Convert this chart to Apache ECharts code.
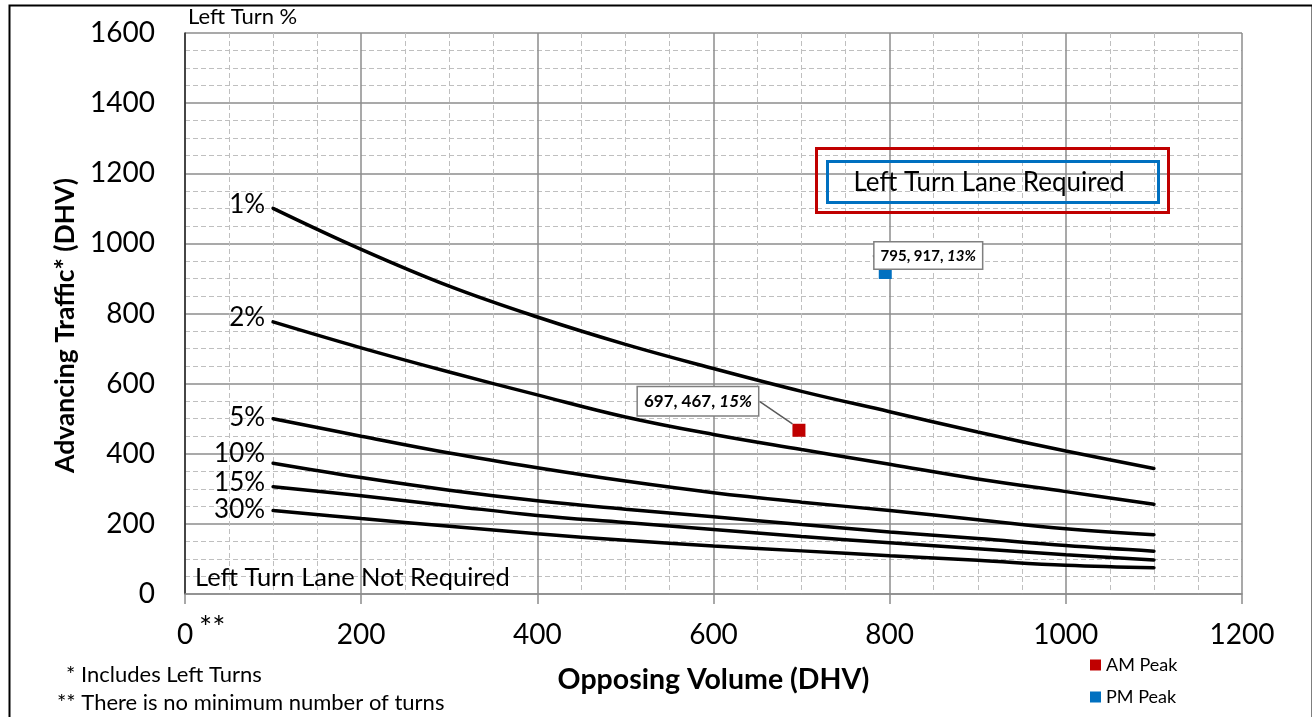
<!DOCTYPE html>
<html>
<head>
<meta charset="utf-8">
<script src="https://cdn.jsdelivr.net/npm/echarts@6/dist/echarts.min.js"></script>
<style>
html,body{margin:0;padding:0;background:#fff;}
#chart{width:1312px;height:717px;}
</style>
</head>
<body>
<div id="chart"></div>
<script>
// ---- data ----
const opposingVolume = [100, 200, 300, 400, 500, 600, 700, 800, 900, 1000, 1100];
const curveNames = ['1%', '2%', '5%', '10%', '15%', '30%'];
const pct1  = [1100, 983, 878, 790, 712, 643, 578, 520, 462, 408, 358];
const pct2  = [776, 702, 633, 568, 505, 455, 412, 370, 328, 292, 256];
const pct5  = [500, 450, 402, 360, 322, 289, 262, 238, 212, 186, 169];
const pct10 = [373, 332, 296, 266, 242, 220, 198, 177, 158, 138, 122];
const pct15 = [306, 280, 252, 224, 204, 184, 164, 146, 129, 112, 97];
const pct30 = [238, 215, 193, 172, 153, 137, 123, 109, 96, 82, 75];
const curveValues = [pct1, pct2, pct5, pct10, pct15, pct30];
const labelShiftY = [-4, -4, -1, -10, -4, -1];

const amPeak = [697, 467]; const amPct = '15%';
const pmPeak = [795, 917]; const pmPct = '13%';

const xTicks = [0, 200, 400, 600, 800, 1000, 1200];
const yTicks = [0, 200, 400, 600, 800, 1000, 1200, 1400, 1600];

const FONT = 'Lato, "Open Sans", sans-serif';

const chart = echarts.init(document.getElementById('chart'), null, {renderer: 'canvas'});

const curveSeries = curveNames.map((name, k) => ({
  name: name,
  type: 'line',
  smooth: 0.4,
  symbol: 'circle',
  symbolSize: 0.01,
  showSymbol: true,
  showAllSymbol: true,
  z: 3,
  itemStyle: {color: 'rgba(0,0,0,0)'},
  lineStyle: {color: '#000', width: 3.5, cap: 'round'},
  label: {show: false},
  data: opposingVolume.map((x, i) => {
    const item = {value: [x, curveValues[k][i]]};
    if (i === 0) {
      item.label = {show: true, position: 'left', distance: 8, formatter: name,
        offset: [0, labelShiftY[k]], fontFamily: FONT, fontSize: 26, color: '#000'};
    }
    return item;
  })
}));

function pointSeries(name, pt, pct, color, dx, dy, fs) {
  return {
    name: name,
    type: 'scatter',
    symbol: 'rect',
    symbolSize: 13,
    z: 5,
    itemStyle: {color: color, opacity: 1},
    data: [{value: pt}],
    label: {
      show: true,
      position: 'inside',
      formatter: () => '{b|' + pt[0] + ', ' + pt[1] + ', }{i|' + pct + '}',
      backgroundColor: '#fff',
      borderColor: '#7f7f7f',
      borderWidth: 1.5,
      padding: [6, 6, 5, 6],
      rich: {
        b: {fontFamily: FONT, fontWeight: 'bold', fontSize: fs, color: '#000'},
        i: {fontFamily: FONT, fontWeight: 'bold', fontStyle: 'italic', fontSize: fs, color: '#000'}
      }
    },
    labelLayout: {dx: dx, dy: dy},
    labelLine: {show: true, lineStyle: {color: '#595959', width: 1.5}}
  };
}

const option = {
  animation: false,
  backgroundColor: '#fff',
  grid: {left: 185, right: 70, top: 33, bottom: 123},
  legend: {
    orient: 'vertical',
    left: 1085, top: 651,
    itemWidth: 11, itemHeight: 11, itemGap: 14,
    icon: 'rect',
    data: ['AM Peak', 'PM Peak'],
    textStyle: {fontFamily: FONT, fontSize: 18, color: '#000'}
  },
  xAxis: {
    type: 'value', min: xTicks[0], max: xTicks[xTicks.length - 1], interval: 200,
    name: 'Opposing Volume (DHV)', nameLocation: 'middle', nameGap: 71,
    nameTextStyle: {fontFamily: FONT, fontWeight: 'bold', fontSize: 28.5, color: '#000'},
    axisLine: {show: true, lineStyle: {color: '#8c8c8c', width: 1.5}},
    axisTick: {show: true, length: 10, lineStyle: {color: '#8c8c8c', width: 1.5}},
    axisLabel: {fontFamily: FONT, fontSize: 28, color: '#000', margin: 27, formatter: v => String(v)},
    splitLine: {show: true, lineStyle: {color: '#8c8c8c', width: 1.5}},
    minorTick: {show: false, splitNumber: 4},
    minorSplitLine: {show: true, lineStyle: {color: '#bfbfbf', width: 1, type: [5, 3]}}
  },
  yAxis: {
    type: 'value', min: yTicks[0], max: yTicks[yTicks.length - 1], interval: 200,
    name: 'Advancing Traffic* (DHV)', nameLocation: 'middle', nameGap: 104,
    nameTextStyle: {fontFamily: FONT, fontWeight: 'bold', fontSize: 26.5, color: '#000',
                    padding: [0, 24, 0, 0]},
    axisLine: {show: true, lineStyle: {color: '#262626', width: 1.5}},
    axisTick: {show: false},
    axisLabel: {fontFamily: FONT, fontSize: 28, color: '#000', margin: 30, formatter: v => String(v)},
    splitLine: {show: true, lineStyle: {color: '#8c8c8c', width: 1.5}},
    minorTick: {show: false, splitNumber: 4},
    minorSplitLine: {show: true, lineStyle: {color: '#bfbfbf', width: 1, type: [5, 3]}}
  },
  series: curveSeries.concat([
    pointSeries('AM Peak', amPeak, amPct, '#C00000', -101, -29, 17),
    pointSeries('PM Peak', pmPeak, pmPct, '#0070C0', 43, -17, 15)
  ]),
  graphic: [
    {type: 'rect', left: 7, top: 3, shape: {width: 1303, height: 730},
     style: {fill: 'none', stroke: '#000', lineWidth: 2}, silent: true},
    {type: 'text', x: 188, y: 17,
     style: {text: 'Left Turn %', fontFamily: FONT, fontSize: 22, fill: '#000', verticalAlign: 'middle'}},
    {type: 'rect', left: 814, top: 146, shape: {width: 352, height: 64},
     style: {fill: 'none', stroke: '#C00000', lineWidth: 3}, z: 10},
    {type: 'rect', left: 825, top: 159, shape: {width: 331, height: 41},
     style: {fill: 'none', stroke: '#0070C0', lineWidth: 3}, z: 10},
    {type: 'text', x: 989, y: 183, z: 10,
     style: {text: 'Left Turn Lane Required', fontFamily: FONT, fontSize: 26, fill: '#000',
             align: 'center', verticalAlign: 'middle'}},
    {type: 'text', x: 195, y: 578, z: 10,
     style: {text: 'Left Turn Lane Not Required', fontFamily: FONT, fontSize: 25.5, fill: '#000',
             verticalAlign: 'middle'}},
    {type: 'text', x: 199, y: 612,
     style: {text: '**', fontFamily: FONT, fontSize: 31, fill: '#000'}},
    {type: 'text', x: 66, y: 675,
     style: {text: '* Includes Left Turns', fontFamily: FONT, fontSize: 22, fill: '#000', verticalAlign: 'middle'}},
    {type: 'text', x: 57, y: 703,
     style: {text: '** There is no minimum number of turns', fontFamily: FONT, fontSize: 22, fill: '#000', verticalAlign: 'middle'}}
  ]
};
chart.setOption(option);
</script>
</body>
</html>
